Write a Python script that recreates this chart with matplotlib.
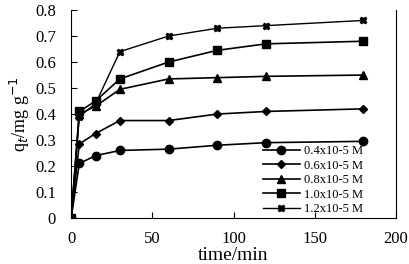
import numpy as np
import matplotlib.pyplot as plt

plt.rcParams['font.family'] = ['Liberation Serif', 'DejaVu Serif']

# contact time (min) and q_t (mg/g) for each initial concentration
t = [0, 5, 15, 30, 60, 90, 120, 180]
q_04 = [0, 0.21, 0.24, 0.26, 0.265, 0.28, 0.29, 0.295]
q_06 = [0, 0.285, 0.325, 0.375, 0.375, 0.40, 0.41, 0.42]
q_08 = [0, 0.40, 0.43, 0.495, 0.535, 0.54, 0.545, 0.55]
q_10 = [0, 0.41, 0.45, 0.535, 0.60, 0.645, 0.67, 0.68]
q_12 = [0, 0.39, 0.44, 0.64, 0.70, 0.73, 0.74, 0.76]
labels = ['0.4x10-5 M', '0.6x10-5 M', '0.8x10-5 M', '1.0x10-5 M', '1.2x10-5 M']

fig = plt.figure(figsize=(4.09, 2.64), dpi=100)
ax = fig.add_axes([0.174, 0.174, 0.794, 0.788])

ax.plot(t, q_04, '-o', color='black', lw=1.2, ms=6, label=labels[0])
ax.plot(t, q_06, '-D', color='black', lw=1.2, ms=4, label=labels[1])
ax.plot(t, q_08, '-^', color='black', lw=1.2, ms=6, label=labels[2])
ax.plot(t, q_10, '-s', color='black', lw=1.2, ms=6, label=labels[3])
ax.plot(t, q_12, '-X', color='black', lw=1.0, ms=5, label=labels[4])

ax.set_xlim(0, 200)
ax.set_ylim(0, 0.8)
ax.set_xticks([0, 50, 100, 150, 200])
ax.set_yticks(np.arange(0, 0.81, 0.1))
ax.set_yticklabels(['0', '0.1', '0.2', '0.3', '0.4', '0.5', '0.6', '0.7', '0.8'])
ax.tick_params(direction='in', length=4, labelsize=12, pad=9)
ax.tick_params(axis='y', pad=11)
ax.spines['top'].set_visible(False)

ax.set_xlabel('time/min', fontsize=14, labelpad=0)
ax.set_ylabel('q$_t$/mg g$^{-1}$', fontsize=13, labelpad=2)

ax.legend(loc='upper left', bbox_to_anchor=(0.57, 0.38), frameon=False,
          fontsize=9, handlelength=3.0, handletextpad=0.3,
          labelspacing=0.2, borderpad=0.0)

fig.savefig('out.png', dpi=100)
